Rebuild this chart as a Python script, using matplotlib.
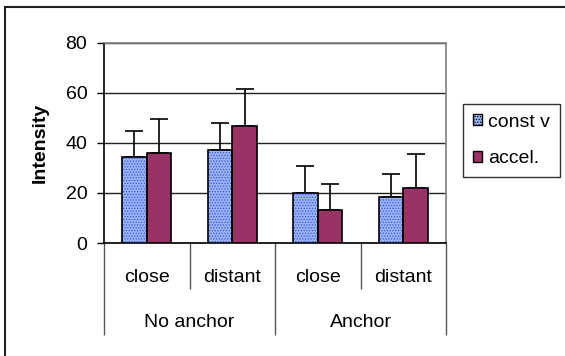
import numpy as np
import matplotlib
matplotlib.use("Agg")
import matplotlib.pyplot as plt
from matplotlib.patches import Rectangle, Patch
import matplotlib.transforms as mtransforms

plt.rcParams['font.family'] = ['Liberation Sans', 'DejaVu Sans']
plt.rcParams['hatch.linewidth'] = 0.6

# data
conditions = ['close', 'distant', 'close', 'distant']
groups = ['No anchor', 'Anchor']
series_names = ['const v', 'accel.']
const_v = [34.3, 37.0, 20.2, 18.3]
const_v_err = [10.4, 11.0, 10.5, 9.2]
accel = [36.0, 46.7, 13.3, 21.9]
accel_err = [13.5, 14.7, 10.2, 13.5]
y_ticks = [0, 20, 40, 60, 80]

blue = '#9db3f6'
plum = '#993366'
fs = 14

fig = plt.figure(figsize=(5.65, 3.56), dpi=100)
ax = fig.add_axes([104 / 565, 1 - 243 / 356, 342 / 565, 200 / 356])

x = np.arange(len(conditions))
w = 0.287
ax.bar(x - w / 2, const_v, w, color=blue, edgecolor='#3355dd', linewidth=0,
       hatch='......', zorder=3)
ax.bar(x - w / 2, const_v, w, facecolor='none', edgecolor='black', linewidth=1.2, zorder=4)
ax.bar(x + w / 2, accel, w, color=plum, edgecolor='black', linewidth=1.2, zorder=3)
ax.errorbar(x - w / 2, const_v, yerr=[np.zeros(4), const_v_err], fmt='none',
            ecolor='black', elinewidth=1.2, capsize=6.5, capthick=1.2, zorder=2)
ax.errorbar(x + w / 2, accel, yerr=[np.zeros(4), accel_err], fmt='none',
            ecolor='black', elinewidth=1.2, capsize=6.5, capthick=1.2, zorder=2)

ax.set_ylim(0, 80)
ax.set_xlim(-0.5, len(conditions) - 0.5)
ax.set_yticks(y_ticks)
ax.tick_params(axis='y', direction='out', length=5, width=1, labelsize=fs, pad=7)
ax.yaxis.grid(True, color='#222222', linewidth=1, zorder=0)
ax.set_axisbelow(True)

for s in ['top', 'right']:
    ax.spines[s].set_color('#808080')
    ax.spines[s].set_linewidth(1.2)
ax.spines['left'].set_linewidth(1.2)
ax.spines['bottom'].set_linewidth(1.2)

# two-level category axis
ax.set_xticks([-0.5, 1.5, 3.5])
ax.set_xticks([0.5, 2.5], minor=True)
ax.set_xticklabels([])
ax.tick_params(axis='x', which='major', direction='out', length=66, width=1, color='#555555')
ax.tick_params(axis='x', which='minor', direction='out', length=33, width=1, color='#555555')
trans = mtransforms.blended_transform_factory(ax.transData, ax.transAxes)
for xi, lab in zip(x, conditions):
    ax.text(xi, -0.1935, lab, transform=trans, ha='center', va='baseline', fontsize=fs)
for gi, g in enumerate(groups):
    ax.text(2 * gi + 0.5, -0.4185, g, transform=trans, ha='center', va='baseline', fontsize=fs)

fig.text(40 / 565, 1 - 143 / 356, 'Intensity', rotation=90, ha='center', va='center',
         fontsize=fs, fontweight='bold')

# legend
handles = [Patch(facecolor=blue, edgecolor='black', hatch='......', label=series_names[0]),
           Patch(facecolor=plum, edgecolor='black', label=series_names[1])]
leg = fig.legend(handles=handles, loc='upper left',
                 bbox_to_anchor=(463 / 565, 1 - 104 / 356), fontsize=fs,
                 frameon=True, fancybox=False, handlelength=0.5, handleheight=0.5,
                 handletextpad=0.3, borderpad=0.5, labelspacing=1.0, borderaxespad=0)
leg.get_frame().set_edgecolor('black')
leg.get_frame().set_linewidth(1)

# chart area border (runs off the right and bottom)
fig.patches.append(Rectangle((5 / 565, -0.05), 1.1, 1 - 7 / 356 + 0.05,
                             transform=fig.transFigure, fill=False,
                             edgecolor='#222222', linewidth=1.5))

fig.savefig('out.png', dpi=100)
